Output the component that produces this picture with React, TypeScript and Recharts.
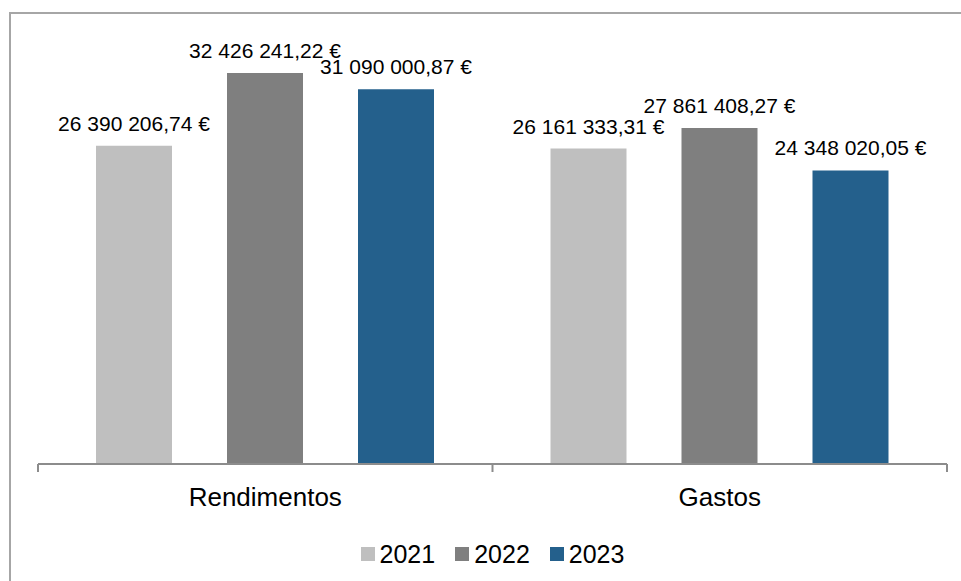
import { BarChart, Bar, XAxis, YAxis, LabelList, Legend } from 'recharts'

const categories = ['Rendimentos', 'Gastos']
const years = ['2021', '2022', '2023']
const values2021 = [26390206.74, 26161333.31]
const values2022 = [32426241.22, 27861408.27]
const values2023 = [31090000.87, 24348020.05]
const colors = ['#BFBFBF', '#7F7F7F', '#24608C']

const data = categories.map((name, i) => ({
	name,
	'2021': values2021[i],
	'2022': values2022[i],
	'2023': values2023[i],
}))

const euro = (v: number) => {
	const [int, dec] = v.toFixed(2).split('.')
	return int.replace(/\B(?=(\d{3})+(?!\d))/g, ' ') + ',' + dec + ' €'
}

const ValueLabel = (props: any) => {
	const { x, y, width, value } = props
	return (
		<text x={x + width / 2} y={y - 15} textAnchor='middle' fontSize={21} fill='#000'>
			{euro(value)}
		</text>
	)
}

const CategoryTick = (props: any) => {
	const { x, y, payload, index, visibleTicksCount } = props
	const half = payload.offset || 0
	const last = index === (visibleTicksCount || 2) - 1
	return (
		<g>
			<line x1={x - half} x2={x - half} y1={y - 8} y2={y} stroke='#8C8C8C' strokeWidth={2} />
			{last && <line x1={x + half} x2={x + half} y1={y - 8} y2={y} stroke='#8C8C8C' strokeWidth={2} />}
			<text x={x} y={y + 34} textAnchor='middle' fontSize={26} fill='#000'>
				{payload.value}
			</text>
		</g>
	)
}

const YearLegend = () => (
	<div style={{ display: 'flex', justifyContent: 'center', alignItems: 'center', height: 40 }}>
		{years.map((y, i) => (
			<div key={y} style={{ display: 'flex', alignItems: 'center', marginRight: i < 2 ? 20 : 0 }}>
				<span style={{ width: 14, height: 14, background: colors[i], marginRight: 5, display: 'inline-block' }} />
				<span style={{ fontSize: 25, color: '#000' }}>{y}</span>
			</div>
		))}
	</div>
)

export default function App() {
	return (
		<div
			style={{
				position: 'absolute',
				left: 0,
				top: 0,
				width: 961,
				height: 581,
				overflow: 'hidden',
				background: '#fff',
				fontFamily: '"Liberation Sans", Arial, sans-serif',
			}}
		>
			<div
				style={{
					position: 'absolute',
					left: 9,
					top: 12,
					width: 1200,
					height: 1200,
					borderTop: '2px solid #A6A6A6',
					borderLeft: '2px solid #A6A6A6',
				}}
			/>
			<BarChart
				width={961}
				height={581}
				data={data}
				margin={{ top: 42, right: 14, left: 38, bottom: 7 }}
				barSize={76}
				barGap={55}
				style={{ position: 'absolute', left: 0, top: 0 }}
			>
				<XAxis
					dataKey='name'
					height={70}
					axisLine={{ stroke: '#8C8C8C', strokeWidth: 2 }}
					tickLine={false}
					tick={<CategoryTick />}
					interval={0}
				/>
				<YAxis hide domain={[0, 35000000]} />
				{years.map((y, i) => (
					<Bar key={y} dataKey={y} fill={colors[i]} isAnimationActive={false}>
						<LabelList dataKey={y} content={<ValueLabel />} />
					</Bar>
				))}
				<Legend content={<YearLegend />} verticalAlign='bottom' height={40} />
			</BarChart>
		</div>
	)
}
